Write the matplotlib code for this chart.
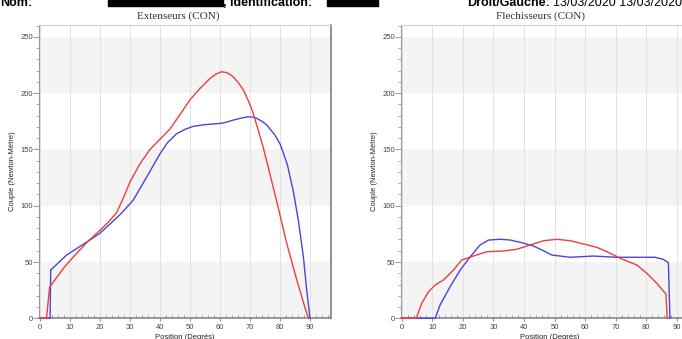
import numpy as np
import matplotlib
matplotlib.use('Agg')
import matplotlib.pyplot as plt
from matplotlib.patches import Rectangle
from matplotlib.ticker import MultipleLocator

# Extenseurs (CON) - left/right torque curves, degrees vs Newton-metre
ext_red_x = [0, 2.2, 3.2, 3.6, 8.0, 12.0, 16.1, 20.0, 23.0, 25.6, 28.0, 30.0, 33.3, 36.7, 40.0, 43.3, 46.7, 50.0,
             53.3, 56.7, 58.7, 60.6, 62.5, 64.4, 66.2, 67.8, 69.5, 71.1, 74.4, 76.1, 78.9, 82.2, 85.6, 88.9, 89.6]
ext_red_y = [0, 0, 27, 29, 45, 57, 68.6, 78, 86, 94, 108, 121, 137, 150, 159, 168, 181, 194,
             204, 213, 217, 219, 218, 214.6, 209, 202.8, 193, 182, 152, 134, 104, 67, 34, 4.4, 0]
ext_blue_x = [0, 3.4, 3.6, 8.9, 16.1, 20.0, 26.7, 31.1, 34.4, 37.2, 40.0, 42.5, 45.6, 48.5, 51.1, 55.0, 60.6,
              62.5, 64.4, 67.0, 69.4, 71.0, 72.2, 74.0, 75.6, 78.3, 80.0, 81.1, 82.5, 84.5, 86.1, 87.8, 88.9, 90.0]
ext_blue_y = [0, 0, 42.9, 56.2, 68.6, 75.5, 92, 105, 120, 133, 146, 156, 164, 168, 170.5, 172, 173.2,
              174.5, 176, 177.8, 179, 178.7, 177.6, 175, 171.7, 162.8, 155, 147, 136, 112, 87.3, 54.7, 25.1, 0]

# Flechisseurs (CON)
fle_red_x = [0, 4.7, 6.5, 8.7, 10.9, 13.6, 16.9, 19.6, 23.4, 27.8, 33.3, 37.6, 42.0, 46.4, 50.8, 55.1, 59.5,
             63.9, 67.2, 71.5, 77.0, 80.2, 83.5, 86.5, 86.9]
fle_red_y = [0, 0, 13.3, 23.6, 29.6, 34, 42.9, 51.8, 55.3, 59.1, 59.8, 61.3, 65.1, 68.9, 70.2, 68.9, 66,
             63, 59.1, 53.3, 47.3, 40, 31.1, 21.6, 0]
fle_blue_x = [0, 10.9, 12.5, 15.8, 19.1, 22.4, 25.6, 28.4, 32.2, 35.5, 39.3, 43.1, 46.4, 49.1, 55.1, 62.7,
              70.4, 77.6, 82.9, 85.6, 87.3, 87.8]
fle_blue_y = [0, 0, 11.8, 28.1, 42.9, 54.7, 65.1, 69.5, 70.2, 69.5, 67.1, 64.2, 60, 56.2, 54.2, 55.3,
              54.2, 54.2, 54.2, 52.4, 49.4, 0]

RED = '#f03c3c'
BLUE = '#4646dc'

def style_axes(ax):
    ax.set_xlim(-0.3, 97)
    ax.set_ylim(0, 260.5)
    for lo in (0, 100, 200):
        ax.axhspan(lo, lo + 50, color='#f4f4f4', zorder=0, lw=0)
    ax.set_axisbelow(True)
    ax.xaxis.set_major_locator(MultipleLocator(10))
    ax.xaxis.set_minor_locator(MultipleLocator(2))
    ax.yaxis.set_major_locator(MultipleLocator(50))
    ax.yaxis.set_minor_locator(MultipleLocator(10))
    ax.set_xticks(np.arange(0, 91, 10))
    ax.xaxis.grid(True, which='major', color='#e2e2e2', lw=0.7)
    ax.tick_params(axis='x', which='major', direction='out', length=2.5, width=0.6, color='#777777',
                   labelsize=5.5, labelcolor='#444444', pad=1.5)
    ax.tick_params(axis='x', which='minor', direction='in', length=2.5, width=0.6, color='#888888')
    ax.tick_params(axis='y', which='major', direction='out', length=4, width=0.6, color='#888888',
                   labelsize=5.5, labelcolor='#444444', pad=0.5)
    ax.tick_params(axis='y', which='minor', direction='out', length=2, width=0.6, color='#999999')
    ax.spines['top'].set_color('#cfcfcf'); ax.spines['top'].set_linewidth(0.8)
    ax.spines['left'].set_color('#999999'); ax.spines['left'].set_linewidth(0.8)
    ax.spines['right'].set_color('#888888'); ax.spines['right'].set_linewidth(1.3)
    ax.spines['bottom'].set_color('#888888'); ax.spines['bottom'].set_linewidth(1.2)
    ax.set_ylabel('Couple (Newton-Mètre)', fontsize=5.5, color='#222222', labelpad=3)
    ax.set_xlabel('Position (Degrés)', fontsize=5.5, color='#222222', labelpad=2.5)

def main():
    fig = plt.figure(figsize=(6.82, 3.39), dpi=100)
    fig.patch.set_facecolor('white')
    plt.rcParams['font.family'] = ['Liberation Sans', 'DejaVu Sans']

    ax1 = fig.add_axes([39/682, 20.7/339, 292/682, 293.3/339])
    ax2 = fig.add_axes([401/682, 20.7/339, 297/682, 293.3/339])
    for ax, (rx, ry, bx, by) in [(ax1, (ext_red_x, ext_red_y, ext_blue_x, ext_blue_y)),
                                 (ax2, (fle_red_x, fle_red_y, fle_blue_x, fle_blue_y))]:
        style_axes(ax)
        ax.plot(bx, by, color=BLUE, lw=1.0, zorder=3, clip_on=False)
        ax.plot(rx, ry, color=RED, lw=1.0, zorder=4, clip_on=False)

    # panel titles
    fig.text(178/682, 1 - 16/339, 'Extenseurs (CON)', ha='center', va='center',
             family='Liberation Serif', fontsize=8, color='#333333')
    fig.text(540/682, 1 - 16/339, 'Flechisseurs (CON)', ha='center', va='center',
             family='Liberation Serif', fontsize=8, color='#333333')

    # header line (cut at top of page)
    yb = 1 - 6/339
    fig.text(0, yb, 'Nom:', ha='left', va='baseline', fontsize=9, weight='bold')
    fig.text(223/682, yb, ', Identification:', ha='left', va='baseline', fontsize=9, weight='bold')
    fig.text(467/682, yb, 'Droit/Gauche:', ha='left', va='baseline', fontsize=9, weight='bold')
    fig.text(553/682, yb, '13/03/2020 13/03/2020', ha='left', va='baseline', fontsize=9)
    fig.patches.append(Rectangle((108/682, 1 - 6/339), 115/682, 8/339, transform=fig.transFigure,
                                 color='black', figure=fig))
    fig.patches.append(Rectangle((327/682, 1 - 6/339), 51/682, 8/339, transform=fig.transFigure,
                                 color='black', figure=fig))

    fig.savefig('out.png', dpi=100)

if __name__ == '__main__':
    main()
